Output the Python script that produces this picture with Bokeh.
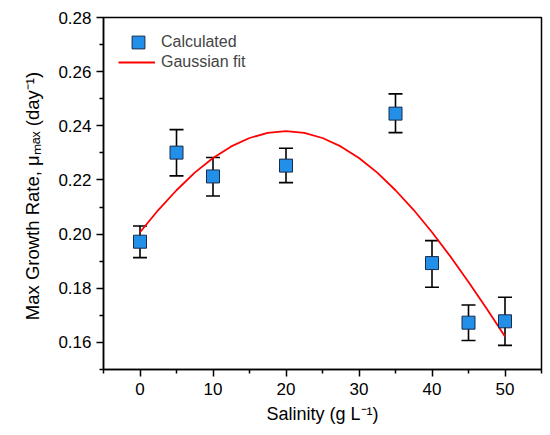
from bokeh.plotting import figure
from bokeh.models import (ColumnDataSource, Whisker, TeeHead, FixedTicker,
                          PrintfTickFormatter, Legend, LegendItem, Range1d)
from bokeh.embed import file_html
from bokeh.resources import INLINE

# measured data
salinity = [0, 5, 10, 20, 35, 40, 45, 50]
mu_max = [0.1972, 0.2301, 0.2213, 0.2253, 0.2445, 0.1893, 0.1673, 0.1678]
err_upper = [0.2030, 0.2386, 0.2283, 0.2317, 0.2518, 0.1976, 0.1738, 0.1767]
err_lower = [0.1913, 0.2215, 0.2141, 0.2190, 0.2375, 0.1804, 0.1607, 0.1589]

# Gaussian fit curve
fit_x = [0, 2.5, 5, 7.5, 10, 12.5, 15, 17.5, 20, 22.5, 25, 27.5, 30, 32.5,
         35, 37.5, 40, 42.5, 45, 47.5, 50]
fit_y = [0.2007, 0.2089, 0.2162, 0.2227, 0.2281, 0.2324, 0.2355, 0.2374,
         0.2380, 0.2374, 0.2355, 0.2324, 0.2281, 0.2227, 0.2162, 0.2089,
         0.2007, 0.1918, 0.1823, 0.1724, 0.1622]

x_ticks = [0, 10, 20, 30, 40, 50]
x_minor = [-5, 5, 15, 25, 35, 45, 55]
y_ticks = [0.16, 0.18, 0.20, 0.22, 0.24, 0.26, 0.28]
y_minor = [0.15, 0.17, 0.19, 0.21, 0.23, 0.25, 0.27]

FONT = "Liberation Sans"

p = figure(width=550, height=435, output_backend="svg", toolbar_location=None,
           x_range=Range1d(-5, 55), y_range=Range1d(0.15, 0.28),
           min_border_left=103, min_border_right=9, min_border_top=17,
           min_border_bottom=66)
p.grid.visible = False
p.outline_line_color = "black"
p.outline_line_width = 1.5
p.background_fill_color = "white"
p.border_fill_color = "white"

fit_r = p.line(fit_x, fit_y, line_color="#ff0000", line_width=1.8)

src = ColumnDataSource(dict(x=salinity, y=mu_max, upper=err_upper, lower=err_lower))
wh = Whisker(base="x", upper="upper", lower="lower", source=src,
             line_color="black", line_width=1.6,
             upper_head=TeeHead(size=14, line_color="black", line_width=1.6),
             lower_head=TeeHead(size=14, line_color="black", line_width=1.6))
p.add_layout(wh)

pts = p.scatter("x", "y", source=src, marker="square", size=13,
                fill_color="#2290e8", line_color="#1a2a4a", line_width=1)

p.xaxis.ticker = FixedTicker(ticks=x_ticks, minor_ticks=x_minor)
p.yaxis.ticker = FixedTicker(ticks=y_ticks, minor_ticks=y_minor)
p.yaxis.formatter = PrintfTickFormatter(format="%.2f")

for ax in (p.xaxis[0], p.yaxis[0]):
    ax.axis_line_width = 1.5
    ax.axis_line_color = "black"
    ax.major_tick_line_width = 1.5
    ax.minor_tick_line_width = 1.5
    ax.major_tick_in = 0
    ax.major_tick_out = 7
    ax.minor_tick_in = 0
    ax.minor_tick_out = 4
    ax.major_label_text_font = FONT
    ax.major_label_text_font_size = "17px"
    ax.major_label_text_color = "black"
    ax.axis_label_text_font = FONT
    ax.axis_label_text_font_style = "normal"
    ax.axis_label_text_color = "black"

p.xaxis.axis_label_text_font_size = "18px"
p.yaxis.axis_label_text_font_size = "18.5px"
p.xaxis.major_label_standoff = 6
p.yaxis.major_label_standoff = 5
p.xaxis.axis_label = "Salinity (g L\u207b\u00b9)"
p.yaxis.axis_label = "Max  Growth Rate, \u03bc\u2098\u2090\u2093 (day\u207b\u00b9)"
p.xaxis.axis_label_standoff = 6
p.yaxis.axis_label_standoff = 12

# main legend: rows 20 px apart
legend = Legend(items=[LegendItem(label="Calculated", renderers=[pts]),
                       LegendItem(label="Gaussian fit", renderers=[fit_r])],
                location="top_left", margin=15, padding=10, spacing=0,
                glyph_width=37, glyph_height=20, label_standoff=6,
                label_text_font=FONT, label_text_font_size="16px",
                border_line_color=None, background_fill_alpha=0)
p.add_layout(legend)

# overlay legend that draws the full-size square symbol
legend_sym = Legend(items=[LegendItem(label=" ", renderers=[pts])],
                    location="top_left", margin=9, padding=10, spacing=0,
                    glyph_width=52, glyph_height=32, label_standoff=0,
                    label_text_font=FONT, label_text_font_size="16px",
                    border_line_color=None, background_fill_alpha=0)
p.add_layout(legend_sym)

open("out.html", "w").write(file_html(p, INLINE))
